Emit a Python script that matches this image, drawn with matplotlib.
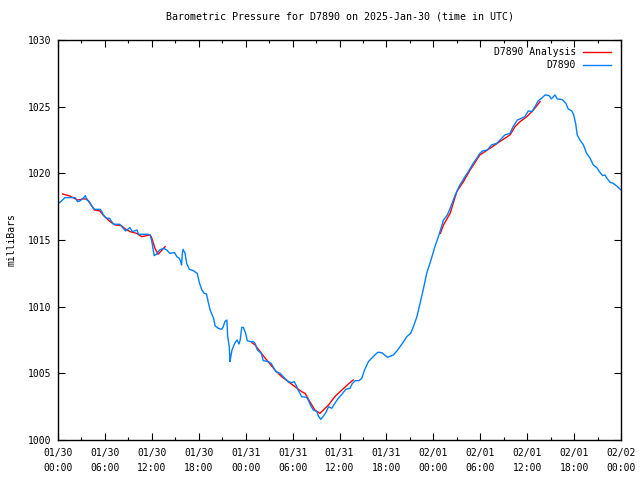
import matplotlib
matplotlib.use("Agg")
import matplotlib.pyplot as plt
import numpy as np

# Hours since 2025-01-30 00:00 UTC, pressure in mb
obs_t = [0.0, 0.26, 0.9, 2.2, 2.5, 2.8, 3.2, 3.5, 3.7, 4.0, 4.3, 4.65, 5.4, 5.6, 5.8, 6.2, 6.6, 6.8, 7.1, 7.9,
         8.35, 8.65, 9.2, 9.5, 10.1, 10.3, 11.55, 11.8, 12.0, 12.3, 12.6, 13.0, 13.5, 13.9, 14.3, 14.9, 15.2, 15.5,
         15.7, 15.8, 15.9, 16.0, 16.25, 16.45, 16.8, 17.3, 17.8, 18.1, 18.4, 18.7, 19.0, 19.2, 19.45, 19.9, 20.1,
         20.5, 20.9, 21.1, 21.35, 21.6, 21.7, 21.9, 22.0, 22.1, 22.25, 22.6, 22.9, 23.15, 23.3, 23.5, 23.7, 24.0,
         24.2, 24.55, 25.0, 25.2, 25.5, 25.75, 26.0, 26.25, 26.9, 27.25, 27.55, 27.85, 28.4, 28.8, 29.0, 29.45,
         29.9, 30.2, 30.5, 30.7, 30.95, 31.15, 31.8, 32.0, 32.35, 32.65, 33.1, 33.3, 33.6, 33.95, 34.25, 34.6,
         35.0, 35.4, 35.85, 36.4, 36.8, 37.35, 37.6, 38.0, 38.5, 38.85, 39.2, 39.7, 40.3, 40.9, 41.4, 42.15,
         42.9, 43.5, 44.2, 44.6, 45.1, 45.45, 45.9, 46.3, 46.7, 47.15, 47.7, 48.2, 48.65, 48.85, 49.3, 49.8,
         50.15, 50.8, 51.4, 52.05, 52.6, 53.1, 53.55, 53.95, 54.3, 54.9, 55.45, 56.1, 56.75, 57.15, 57.8, 58.2,
         58.75, 59.3, 59.7, 60.15, 60.6, 61.0, 61.4, 61.85, 62.3, 62.8, 63.1, 63.35, 63.55, 63.85, 64.5, 64.95,
         65.25, 65.7, 65.95, 66.2, 66.4, 66.75, 67.2, 67.6, 68.05, 68.45, 68.9, 69.3, 69.65, 69.95, 70.2, 70.6,
         71.0, 71.55, 72.0]
obs_p = [1017.75, 1017.83, 1018.18, 1018.18, 1017.88, 1017.93, 1018.12, 1018.33, 1018.0, 1017.88, 1017.58,
         1017.3, 1017.3, 1017.13, 1016.88, 1016.63, 1016.63, 1016.43, 1016.18, 1016.18, 1015.88, 1015.68,
         1015.93, 1015.63, 1015.75, 1015.43, 1015.43, 1015.33, 1014.88, 1013.83, 1013.93, 1014.25, 1014.38,
         1014.25, 1014.0, 1014.06, 1013.75, 1013.63, 1013.38, 1013.13, 1014.0, 1014.3, 1014.0, 1013.25,
         1012.8, 1012.7, 1012.5, 1011.75, 1011.25, 1011.0, 1010.95, 1010.38, 1009.75, 1009.13, 1008.55,
         1008.38, 1008.3, 1008.45, 1008.88, 1009.0, 1007.75, 1007.0, 1005.88, 1006.25, 1006.75, 1007.25,
         1007.5, 1007.2, 1007.5, 1008.45, 1008.45, 1008.0, 1007.45, 1007.38, 1007.38, 1007.25, 1006.75,
         1006.63, 1006.5, 1005.95, 1005.88, 1005.75, 1005.45, 1005.13, 1005.0, 1004.75, 1004.63, 1004.38,
         1004.3, 1004.38, 1004.05, 1003.75, 1003.5, 1003.25, 1003.2, 1003.0, 1002.55, 1002.25, 1002.13,
         1001.8, 1001.55, 1001.8, 1002.05, 1002.5, 1002.38, 1002.75, 1003.13, 1003.5, 1003.8, 1003.88,
         1004.2, 1004.45, 1004.45, 1004.63, 1005.25, 1005.88, 1006.25, 1006.58, 1006.55, 1006.2, 1006.38,
         1006.8, 1007.38, 1007.75, 1008.0, 1008.5, 1009.25, 1010.25, 1011.25, 1012.5, 1013.5, 1014.5,
         1015.25, 1015.63, 1016.5, 1016.88, 1017.38, 1018.38, 1019.13, 1019.75, 1020.25, 1020.75, 1021.13,
         1021.5, 1021.68, 1021.75, 1022.13, 1022.25, 1022.63, 1022.88, 1023.0, 1023.5, 1024.0, 1024.13,
         1024.25, 1024.68, 1024.63, 1025.0, 1025.43, 1025.63, 1025.88, 1025.83, 1025.58, 1025.75, 1025.88,
         1025.58, 1025.53, 1025.25, 1024.83, 1024.68, 1024.38, 1023.75, 1022.88, 1022.5, 1022.13, 1021.5,
         1021.13, 1020.63, 1020.43, 1020.08, 1019.83, 1019.88, 1019.63, 1019.33, 1019.25, 1019.0, 1018.75]

ana1_t = [0.6, 1.5, 2.5, 3.25, 3.7, 4.1, 4.65, 5.35, 5.8, 6.65, 7.3, 8.1, 8.6, 9.2, 10.05, 10.7, 11.35, 11.8,
          12.0, 12.4, 12.8, 13.7]
ana1_p = [1018.45, 1018.3, 1018.0, 1018.08, 1018.08, 1017.75, 1017.25, 1017.18, 1016.85, 1016.38, 1016.13,
          1016.08, 1015.83, 1015.63, 1015.5, 1015.25, 1015.33, 1015.38, 1015.13, 1014.38, 1013.93, 1014.5]
ana2_t = [24.8, 25.2, 26.5, 27.75, 28.6, 29.45, 30.3, 31.15, 31.6, 32.2, 32.85, 33.5, 34.6, 35.4, 36.3, 37.1, 37.75]
ana2_p = [1007.3, 1007.13, 1006.13, 1005.25, 1004.75, 1004.38, 1004.0, 1003.63, 1003.5, 1002.88, 1002.25,
          1002.0, 1002.63, 1003.25, 1003.75, 1004.18, 1004.5]
ana3_t = [48.9, 49.3, 50.15, 51.0, 51.85, 52.7, 53.95, 55.25, 56.5, 57.8, 58.45, 59.1, 59.95, 60.8, 61.65]
ana3_p = [1015.5, 1016.13, 1017.0, 1018.63, 1019.38, 1020.25, 1021.38, 1021.88, 1022.38, 1022.88, 1023.5,
          1023.88, 1024.25, 1024.75, 1025.38]

tick_hours = [0, 6, 12, 18, 24, 30, 36, 42, 48, 54, 60, 66, 72]
tick_labels = ["01/30\n00:00", "01/30\n06:00", "01/30\n12:00", "01/30\n18:00",
               "01/31\n00:00", "01/31\n06:00", "01/31\n12:00", "01/31\n18:00",
               "02/01\n00:00", "02/01\n06:00", "02/01\n12:00", "02/01\n18:00",
               "02/02\n00:00"]

plt.rcParams['font.family'] = ['DejaVu Sans Mono']
plt.rcParams['font.size'] = 7

fig = plt.figure(figsize=(6.4, 4.8), dpi=100)
ax = fig.add_axes([58/640, 40/480, 563/640, 400/480])

red = '#ff0000'
blue = '#0080ff'
ax.plot(ana1_t, ana1_p, color=red, lw=1.0, label='D7890 Analysis')
ax.plot(ana2_t, ana2_p, color=red, lw=1.0)
ax.plot(ana3_t, ana3_p, color=red, lw=1.0)
ax.plot(obs_t, obs_p, color=blue, lw=1.0, label='D7890')

ax.set_xlim(0, 72)
ax.set_ylim(1000, 1030)
ax.set_xticks(tick_hours)
ax.set_xticklabels(tick_labels, linespacing=1.6)
ax.set_xticks(np.arange(3, 72, 6), minor=True)
ax.set_yticks(np.arange(1000, 1031, 5))
ax.tick_params(which='major', direction='in', length=5, width=0.8, top=True, right=True, pad=6)
ax.tick_params(which='minor', direction='in', length=2.5, width=0.8, top=True, right=True)
ax.tick_params(axis='y', pad=5)
for s in ax.spines.values():
    s.set_linewidth(1.0)

ax.set_ylabel('milliBars', labelpad=8)
ax.set_title('Barometric Pressure for D7890 on 2025-Jan-30 (time in UTC)', fontsize=7.2, pad=15)

leg = ax.legend(loc='upper right', frameon=False, markerfirst=False, handlelength=2.9,
                borderaxespad=0.35, labelspacing=0.3, handletextpad=0.7,
                bbox_to_anchor=(0.995, 1.0))
for t in leg.get_texts():
    t.set_ha('right')
leg._legend_box.align = 'right'

fig.savefig('out.png', dpi=100)
